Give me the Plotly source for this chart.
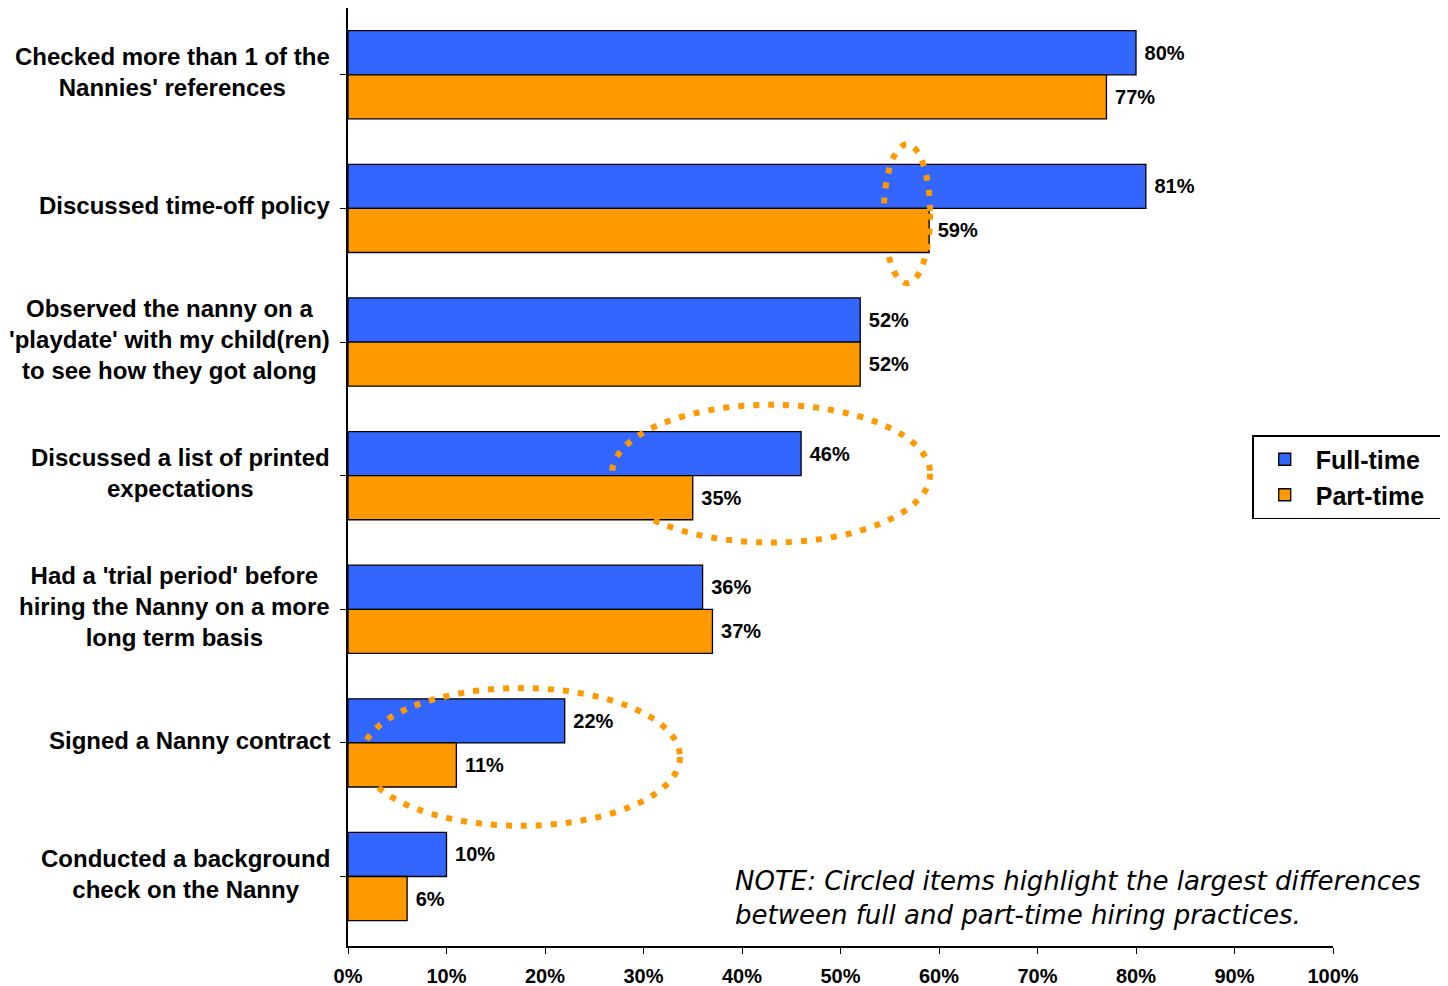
import plotly.graph_objects as go

categories = [
    "Checked more than 1 of the<br>Nannies' references",
    "Discussed time-off policy",
    "Observed the nanny on a<br>'playdate' with my child(ren)<br>to see how they got along",
    "Discussed a list of printed<br>expectations",
    "Had a 'trial period' before<br>hiring the Nanny on a more<br>long term basis",
    "Signed a Nanny contract",
    "Conducted a background<br>check on the Nanny",
]
full_time = [80, 81, 52, 46, 36, 22, 10]
part_time = [77, 59, 52, 35, 37, 11, 6]
tick_vals = [0, 10, 20, 30, 40, 50, 60, 70, 80, 90, 100]
note_text = "NOTE: Circled items highlight the largest differences<br>between full and part-time hiring practices."

# highlighted ellipses: (x0, x1) in percent, (y0, y1) in category index units
ellipses = [
    (54.4, 59.1, 0.52, 1.56),
    (26.8, 59.1, 2.47, 3.50),
    (1.4, 33.7, 4.59, 5.62),
]

FONT = "Liberation Sans, Arial, sans-serif"
idx = list(range(len(categories)))

fig = go.Figure()
fig.add_trace(go.Bar(
    y=idx, x=full_time, orientation="h", name="<b>Full-time</b>&nbsp;&nbsp;&nbsp;&nbsp;&nbsp;",
    marker=dict(color="#3366FF", line=dict(color="black", width=1.3)),
    text=[f"&nbsp;<b>{v}%</b>" for v in full_time], textposition="outside",
    textfont=dict(family=FONT, size=20, color="black"), cliponaxis=False,
))
fig.add_trace(go.Bar(
    y=idx, x=part_time, orientation="h", name="<b>Part-time</b>&nbsp;&nbsp;&nbsp;&nbsp;&nbsp;",
    marker=dict(color="#FF9900", line=dict(color="black", width=1.3)),
    text=[f"&nbsp;<b>{v}%</b>" for v in part_time], textposition="outside",
    textfont=dict(family=FONT, size=20, color="black"), cliponaxis=False,
))

for i, c in enumerate(categories):
    fig.add_annotation(
        x=-0.016, xref="paper", y=i - 0.02, yref="y", text=f"<b>{c}</b>",
        showarrow=False, xanchor="right", yanchor="middle", align="center",
        font=dict(family=FONT, size=24, color="black"),
    )

for (x0, x1, y0, y1) in ellipses:
    fig.add_shape(type="circle", xref="x", yref="y", x0=x0, x1=x1, y0=y0, y1=y1,
                  line=dict(color="#FF9900", width=6, dash="6px,9px"), layer="above")

fig.add_annotation(
    x=0.391, xref="paper", y=0.051, yref="paper", text=f"<i>{note_text}</i>",
    showarrow=False, xanchor="left", yanchor="middle", align="left",
    font=dict(family="DejaVu Sans, sans-serif", size=26, color="black"),
)

fig.update_layout(
    width=1448, height=986,
    margin=dict(l=340, r=123, t=0, b=48, autoexpand=False),
    plot_bgcolor="white", paper_bgcolor="white",
    barmode="group", bargap=0.34, bargroupgap=0,
    showlegend=True,
    legend=dict(x=0.918, y=0.5, xanchor="left", yanchor="middle",
                bgcolor="white", bordercolor="black", borderwidth=1.5,
                font=dict(family=FONT, size=25, color="black"),
                itemwidth=52, tracegroupgap=4),
    font=dict(family=FONT),
)
fig.update_xaxes(
    range=[0, 100], tickvals=tick_vals, ticktext=[f"<b>{v}%</b>" for v in tick_vals],
    tickfont=dict(family=FONT, size=20, color="black"),
    showline=True, linecolor="black", linewidth=1.5, ticks="outside",
    ticklen=6, tickcolor="black", showgrid=False, zeroline=False,
    ticklabelstandoff=5,
)
fig.update_yaxes(
    range=[6.52, -0.5], tickmode="array", tickvals=idx, ticktext=[""] * len(idx),
    showticklabels=False, tickson="boundaries",
    showline=True, linecolor="black", linewidth=1.5, ticks="outside",
    ticklen=6, tickcolor="black", showgrid=False, zeroline=False,
)

fig.write_html("out.html")
